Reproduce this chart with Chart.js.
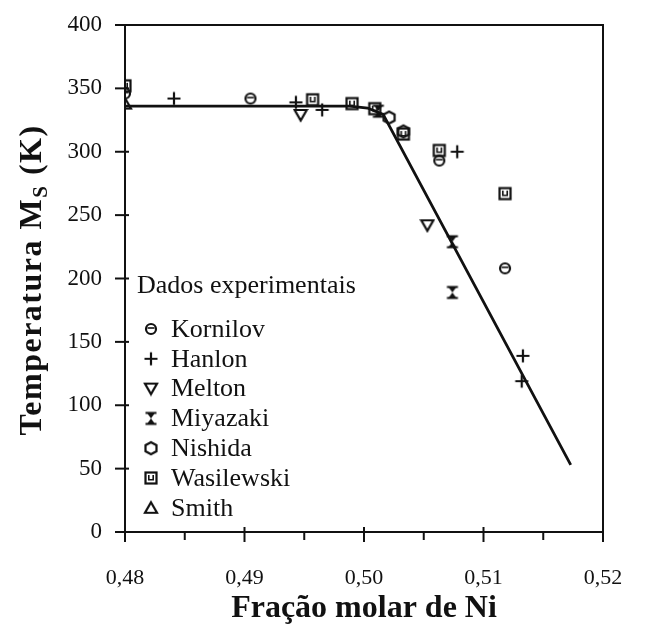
<!DOCTYPE html>
<html lang="pt">
<head>
<meta charset="UTF-8">
<script src="https://cdn.jsdelivr.net/npm/chart.js@4.4.0/dist/chart.umd.min.js"></script>
<title>Temperatura Ms x Fração molar de Ni</title>
<style>
  html, body { margin: 0; padding: 0; background: #fff; }
  #wrap { width: 652px; height: 625px; }
</style>
</head>
<body>
<div id="wrap"><canvas id="canvas" width="652" height="625"></canvas></div>
<script>
// measured points, one pair of arrays per source
const kornilovX   = [0.4800, 0.4905, 0.5063, 0.5118];
const kornilovY   = [346, 342, 293, 208];
const hanlonX     = [0.4841, 0.4943, 0.4965, 0.5078, 0.5133, 0.5132];
const hanlonY     = [342, 339, 333, 300, 139, 119];
const meltonX     = [0.4947, 0.5053];
const meltonY     = [329, 242];
const miyazakiX   = [0.5012, 0.5074, 0.5074];
const miyazakiY   = [332, 229, 189];
const nishidaX    = [0.5021, 0.5033];
const nishidaY    = [327, 316];
const wasilewskiX = [0.4800, 0.4957, 0.4990, 0.5009, 0.5033, 0.5063, 0.5118];
const wasilewskiY = [352, 341, 338, 334, 314, 301, 267];
const smithX      = [0.4800];
const smithY      = [338];

// fitted Ms curve
const fitX = [0.4800, 0.4988, 0.5003, 0.5016, 0.5173];
const fitY = [336, 336, 334.5, 329.5, 53];

const xTicks = [0.48, 0.49, 0.50, 0.51, 0.52];
const yTicks = [0, 50, 100, 150, 200, 250, 300, 350, 400];

const SERIF = '"Liberation Serif", "Times New Roman", serif';
const INK = '#111';

function pts(xs, ys) { return xs.map((x, i) => ({ x: x, y: ys[i] })); }

// small canvases used as point symbols (16x16, centre at 8,8)
function marker(draw) {
  const c = document.createElement('canvas');
  c.width = 16; c.height = 16;
  const g = c.getContext('2d');
  g.strokeStyle = INK; g.fillStyle = INK; g.lineWidth = 2.2;
  draw(g);
  return c;
}
const symKornilov = marker(g => {
  g.beginPath(); g.arc(8, 8, 5, 0, Math.PI * 2); g.stroke();
  g.lineWidth = 1.6; g.beginPath(); g.moveTo(4.5, 7); g.lineTo(11.5, 7); g.stroke();
});
const symHanlon = marker(g => {
  g.beginPath(); g.moveTo(8, 1.5); g.lineTo(8, 14.5); g.moveTo(1.5, 8); g.lineTo(14.5, 8); g.stroke();
});
const symMelton = marker(g => {
  g.beginPath(); g.moveTo(2, 3); g.lineTo(14, 3); g.lineTo(8, 13.5); g.closePath(); g.stroke();
});
const symMiyazaki = marker(g => {
  g.beginPath(); g.moveTo(2.5, 2.5); g.lineTo(13.5, 2.5); g.moveTo(2.5, 13.5); g.lineTo(13.5, 13.5); g.stroke();
  g.beginPath(); g.moveTo(4, 2.5); g.lineTo(12, 2.5); g.lineTo(8, 8); g.closePath(); g.fill();
  g.beginPath(); g.moveTo(8, 8); g.lineTo(12, 13.5); g.lineTo(4, 13.5); g.closePath(); g.fill();
});
const symNishida = marker(g => {
  g.beginPath(); g.moveTo(8, 2); g.lineTo(13.5, 5); g.lineTo(13.5, 11);
  g.lineTo(8, 14); g.lineTo(2.5, 11); g.lineTo(2.5, 5); g.closePath(); g.stroke();
});
const symWasilewski = marker(g => {
  g.strokeRect(2.5, 2.5, 11, 11);
  g.lineWidth = 1.6; g.beginPath(); g.moveTo(5.8, 5); g.lineTo(5.8, 9.8); g.lineTo(10.2, 9.8); g.lineTo(10.2, 5); g.stroke();
});
const symSmith = marker(g => {
  g.beginPath(); g.moveTo(8, 2.5); g.lineTo(14, 13); g.lineTo(2, 13); g.closePath(); g.stroke();
});

function series(label, xs, ys, sym) {
  return { type: 'scatter', label: label, data: pts(xs, ys), pointStyle: sym, pointRadius: 8, pointHoverRadius: 8 };
}

// frame, tick marks, axis titles and the legend block
const decor = {
  id: 'decor',
  afterDraw(chart) {
    const g = chart.ctx, a = chart.chartArea;
    const sx = chart.scales.x, sy = chart.scales.y;
    g.save();
    g.strokeStyle = INK; g.lineWidth = 2;
    g.beginPath();
    g.moveTo(a.left, a.top); g.lineTo(a.right, a.top); g.lineTo(a.right, a.bottom);
    g.stroke();
    // x ticks: majors cross the axis, minors hang below
    sx.ticks.forEach(t => {
      const px = sx.getPixelForValue(t.value);
      const major = Math.round(t.value * 1000) % 10 === 0;
      g.beginPath();
      g.moveTo(px, major ? a.bottom - 5 : a.bottom);
      g.lineTo(px, a.bottom + (major ? 10 : 8));
      g.stroke();
    });
    sy.ticks.forEach(t => {
      const py = sy.getPixelForValue(t.value);
      g.beginPath(); g.moveTo(a.left - 10, py); g.lineTo(a.left + 4, py); g.stroke();
    });
    // axis titles
    g.fillStyle = INK;
    g.font = 'bold 32px ' + SERIF;
    g.textAlign = 'center'; g.textBaseline = 'middle';
    g.fillText('Fração molar de Ni', (a.left + a.right) / 2, 609);

    g.save();
    g.translate(30, 280);
    g.rotate(-Math.PI / 2);
    g.letterSpacing = '1.5px';
    const main = 'Temperatura M', sub = 'S', tail = ' (K)';
    g.font = 'bold 32px ' + SERIF;
    const w1 = g.measureText(main).width, w3 = g.measureText(tail).width;
    g.font = 'bold 21px ' + SERIF;
    const w2 = g.measureText(sub).width;
    let x0 = -(w1 + w2 + w3) / 2;
    g.textAlign = 'left'; g.textBaseline = 'alphabetic';
    g.font = 'bold 32px ' + SERIF; g.fillText(main, x0, 11); x0 += w1;
    g.font = 'bold 21px ' + SERIF; g.fillText(sub, x0, 17); x0 += w2;
    g.font = 'bold 32px ' + SERIF; g.fillText(tail, x0, 11);
    g.restore();

    // legend
    g.font = '26px ' + SERIF;
    g.textAlign = 'left'; g.textBaseline = 'middle';
    g.fillText('Dados experimentais', 137, 286);
    const rows = chart.data.datasets.filter(d => d.type === 'scatter');
    rows.forEach((d, i) => {
      const cy = 329 + i * 29.8;
      g.drawImage(d.pointStyle, 151 - 8, cy - 8);
      g.fillText(d.label, 171, cy + 1);
    });
    g.restore();
  }
};

new Chart(document.getElementById('canvas'), {
  data: {
    datasets: [
      { type: 'line', label: 'ajuste', data: pts(fitX, fitY), borderColor: INK, borderWidth: 2.8,
        pointRadius: 0, fill: false, tension: 0 },
      series('Kornilov', kornilovX, kornilovY, symKornilov),
      series('Hanlon', hanlonX, hanlonY, symHanlon),
      series('Melton', meltonX, meltonY, symMelton),
      series('Miyazaki', miyazakiX, miyazakiY, symMiyazaki),
      series('Nishida', nishidaX, nishidaY, symNishida),
      series('Wasilewski', wasilewskiX, wasilewskiY, symWasilewski),
      series('Smith', smithX, smithY, symSmith)
    ]
  },
  options: {
    responsive: false,
    animation: false,
    events: [],
    layout: { padding: { top: 25, right: 49, left: 0, bottom: 0 } },
    plugins: { legend: { display: false }, tooltip: { enabled: false } },
    scales: {
      x: {
        type: 'linear', position: 'bottom',
        min: xTicks[0], max: xTicks[xTicks.length - 1],
        // fixed box; the outer layout padding decides where the plot sits
        afterFit(s) { s.height = 93; s.paddingLeft = 0; s.paddingRight = 0; },
        grid: { display: false, drawTicks: false },
        border: { display: true, color: INK, width: 2 },
        ticks: {
          stepSize: 0.005, padding: 33, color: INK, maxRotation: 0, autoSkip: false,
          font: { family: SERIF, size: 22 },
          callback: v => {
            const hit = xTicks.find(t => Math.abs(t - v) < 1e-6);
            return hit === undefined ? '' : hit.toFixed(2).replace('.', ',');
          }
        }
      },
      y: {
        type: 'linear', position: 'left',
        min: yTicks[0], max: yTicks[yTicks.length - 1],
        afterFit(s) { s.width = 125; s.paddingTop = 0; s.paddingBottom = 0; },
        grid: { display: false, drawTicks: false },
        border: { display: true, color: INK, width: 2 },
        ticks: {
          stepSize: 50, padding: 23, color: INK,
          font: { family: SERIF, size: 23 }
        }
      }
    }
  },
  plugins: [decor]
});
</script>
</body>
</html>
